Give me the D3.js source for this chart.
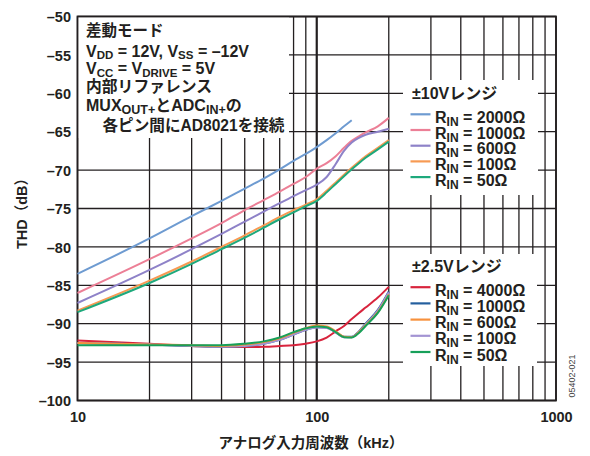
<!DOCTYPE html>
<html>
<head>
<meta charset="utf-8">
<script src="https://cdn.jsdelivr.net/npm/d3@7"></script>
<style>
  html, body { margin: 0; padding: 0; background: #fff; }
  svg { display: block; }
  text { font-family: "Liberation Sans", Arial, "Noto Sans CJK JP", sans-serif; font-weight: bold; fill: #231f20; }
</style>
</head>
<body>
<svg id="chart" width="590" height="456"></svg>
<script>
// Frequencies in kHz for each sampled point
const freq10 = [10, 20, 30, 40, 50, 60, 70, 80, 90, 100, 110, 120, 130, 140, 150, 160, 180, 200];

// ±10V range, THD in dB
const rin10_2000 = [-83.5, -78.9, -76.0, -74.0, -72.4, -71.1, -69.9, -68.8, -67.9, -67.0, -66.1, -65.2, -64.3, -63.5];
const rin10_1000 = [-86.0, -81.6, -78.9, -76.9, -75.2, -73.9, -72.8, -71.8, -70.9, -69.8, -69.1, -68.2, -67.1, -66.2, -65.6, -65.1, -64.3, -63.2];
const rin10_600  = [-87.3, -83.0, -80.3, -78.3, -76.7, -75.4, -74.3, -73.4, -72.6, -71.9, -70.9, -69.2, -67.5, -66.4, -65.8, -65.4, -65.0, -64.6];
const rin10_100  = [-88.3, -84.4, -81.9, -80.0, -78.5, -77.2, -76.1, -75.2, -74.5, -73.8, -72.7, -71.6, -70.6, -69.7, -68.9, -68.2, -67.1, -66.1];
const rin10_50   = [-88.5, -84.7, -82.2, -80.3, -78.8, -77.5, -76.4, -75.5, -74.7, -74.0, -72.9, -71.8, -70.8, -69.9, -69.1, -68.4, -67.3, -66.3];

// ±2.5V range, THD in dB
const rin25_4000 = [-92.2, -92.6, -92.9, -93.05, -93.05, -93.0, -92.9, -92.8, -92.6, -92.3, -91.8, -91.0, -90.3, -89.4, -88.6, -87.9, -86.6, -85.2];
const rin25_1000 = [-92.5, -92.7, -92.9, -93.0, -92.9, -92.6, -92.1, -91.4, -90.8, -90.45, -90.5, -91.1, -91.7, -91.7, -91.0, -90.0, -88.2, -85.8];
const rin25_600  = [-92.5, -92.7, -92.8, -92.9, -92.7, -92.4, -91.9, -91.2, -90.6, -90.25, -90.35, -91.0, -91.7, -91.75, -91.1, -90.2, -88.5, -86.2];
const rin25_100  = [-92.5, -92.7, -92.9, -93.0, -92.9, -92.6, -92.1, -91.4, -90.8, -90.5, -90.55, -91.15, -91.75, -91.75, -91.05, -90.1, -88.3, -85.9];
const rin25_50   = [-92.8, -92.8, -92.8, -92.8, -92.6, -92.3, -91.8, -91.1, -90.6, -90.35, -90.45, -91.1, -91.75, -91.8, -91.2, -90.3, -88.6, -86.3];

// Axis tick labels
const yTickValues = [-50, -55, -60, -65, -70, -75, -80, -85, -90, -95, -100];
const xTickLabels = [10, 100, 1000];

// Legend entries
const legend10Title = "±10Vレンジ";
const legend10Labels = ["2000Ω", "1000Ω", "600Ω", "100Ω", "50Ω"];
const legend25Title = "±2.5Vレンジ";
const legend25Labels = ["4000Ω", "1000Ω", "600Ω", "100Ω", "50Ω"];

const colors10 = ["#6e9bd1", "#ec7f96", "#8e82c8", "#f79a53", "#1ea97c"];
const colors25 = ["#d8243d", "#245f9e", "#f7913d", "#a394d3", "#17a05a"];

const series10 = [rin10_2000, rin10_1000, rin10_600, rin10_100, rin10_50];
const series25 = [rin25_4000, rin25_1000, rin25_600, rin25_100, rin25_50];

const svg = d3.select("#chart");
const plotL = 77.5, plotR = 556, plotT = 16.5, plotB = 400.5;

const x = d3.scaleLog().domain([10, 1000]).range([plotL, plotR]);
const y = d3.scaleLinear().domain([-100, -50]).range([plotB, plotT]);

// Grid
const grid = svg.append("g");
grid.selectAll("line.v").data(x.ticks()).join("line")
  .attr("x1", d => x(d)).attr("x2", d => x(d))
  .attr("y1", plotT).attr("y2", plotB)
  .attr("stroke", "#231f20")
  .attr("stroke-width", d => d === 100 ? 2.2 : 1.3);
grid.selectAll("line.h").data(yTickValues).join("line")
  .attr("x1", plotL).attr("x2", plotR)
  .attr("y1", d => y(d)).attr("y2", d => y(d))
  .attr("stroke", "#231f20").attr("stroke-width", 1.3);

// White panels behind the annotation and legends
const panels = [
  [plotL, plotT, 289, 138],
  [403, 80, 538, 195],
  [403, 254, 537, 366]
];
svg.append("g").selectAll("rect").data(panels).join("rect")
  .attr("x", d => d[0]).attr("y", d => d[1])
  .attr("width", d => d[2] - d[0]).attr("height", d => d[3] - d[1])
  .attr("fill", "#fff");

// Frame
svg.append("rect")
  .attr("x", plotL).attr("y", plotT)
  .attr("width", plotR - plotL).attr("height", plotB - plotT)
  .attr("fill", "none").attr("stroke", "#231f20").attr("stroke-width", 1.8);

// Curves
const line = d3.line()
  .x((d, i) => x(freq10[i]))
  .y(d => y(d))
  .curve(d3.curveMonotoneX);

const curves = svg.append("g").attr("fill", "none").attr("stroke-width", 2);
series10.forEach((s, i) => {
  curves.append("path").attr("d", line(s)).attr("stroke", colors10[i]);
});
[0, 1, 3, 2, 4].forEach(i => {
  curves.append("path").attr("d", line(series25[i])).attr("stroke", colors25[i]);
});

// Axes labels
const fmt = d => String(d).replace("-", "–");
const yAxis = d3.axisLeft(y).tickValues(yTickValues).tickSize(0).tickPadding(0).tickFormat(fmt);
const gy = svg.append("g").attr("transform", "translate(71,0)").call(yAxis);
gy.select(".domain").remove();
gy.selectAll("text").style("font-size", "14.5px").attr("dy", "0.36em");

const xAxis = d3.axisBottom(x).tickValues(xTickLabels).tickSize(0).tickPadding(0).tickFormat(d3.format("d"));
const gx = svg.append("g").attr("transform", "translate(0,412)").call(xAxis);
gx.select(".domain").remove();
gx.selectAll("text").style("font-size", "14.5px").attr("dy", "0.71em");

svg.append("text").attr("x", 311).attr("y", 448).attr("text-anchor", "middle")
  .style("font-size", "14.5px").text("アナログ入力周波数（kHz）");
svg.append("text").attr("transform", "translate(27,210) rotate(-90)").attr("text-anchor", "middle")
  .style("font-size", "14.5px").text("THD（dB）");

svg.append("text").attr("transform", "translate(575,376) rotate(-90)").attr("text-anchor", "middle")
  .style("font-size", "9px").style("font-weight", "normal").style("fill", "#444").text("05402-021");

// Text with subscripted runs (array items are subscripts)
function richText(parent, xPos, yPos, parts, size, subSize, shift) {
  const t = parent.append("text").attr("x", xPos).attr("y", yPos).style("font-size", size + "px");
  let shifted = false;
  parts.forEach(p => {
    const sub = Array.isArray(p);
    const s = t.append("tspan").text(sub ? p[0] : p);
    if (sub) {
      s.style("font-size", subSize + "px");
      if (!shifted) { s.attr("dy", shift); shifted = true; }
    } else if (shifted) {
      s.attr("dy", -shift); shifted = false;
    }
  });
  return t;
}

const ann = svg.append("g");
const ax = 86;
richText(ann, ax, 36, ["差動モード"], 15.5, 11.5, 2.5);
richText(ann, ax, 56.5, ["V", ["DD"], " = 12V, V", ["SS"], " = –12V"], 16, 11.5, 2.5);
richText(ann, ax, 74, ["V", ["CC"], " = V", ["DRIVE"], " = 5V"], 16, 11.5, 2.5);
richText(ann, ax, 91.5, ["内部リファレンス"], 15.8, 11.5, 2.5);
richText(ann, ax, 111, ["MUX", ["OUT+"], "とADC", ["IN+"], "の"], 16, 12.5, 3);
richText(ann, 102.5, 130.5, ["各ピン間にAD8021を接続"], 15.6, 12, 3);

// Legends
function legend(title, labels, cols, titleY, firstY, step) {
  const g = svg.append("g");
  g.append("text").attr("x", 412).attr("y", titleY).style("font-size", "16px").text(title);
  labels.forEach((lab, i) => {
    const yy = firstY + i * step;
    g.append("line").attr("x1", 410.5).attr("x2", 430.5)
      .attr("y1", yy - 8.5).attr("y2", yy - 8.5)
      .attr("stroke", cols[i]).attr("stroke-width", 2.2);
    richText(g, 435, yy, ["R", ["IN"], " = " + lab], 16, 12, 3);
  });
}
legend(legend10Title, legend10Labels, colors10, 99, 122.8, 15.7);
legend(legend25Title, legend25Labels, colors25, 271.5, 295.7, 16.2);
</script>
</body>
</html>
